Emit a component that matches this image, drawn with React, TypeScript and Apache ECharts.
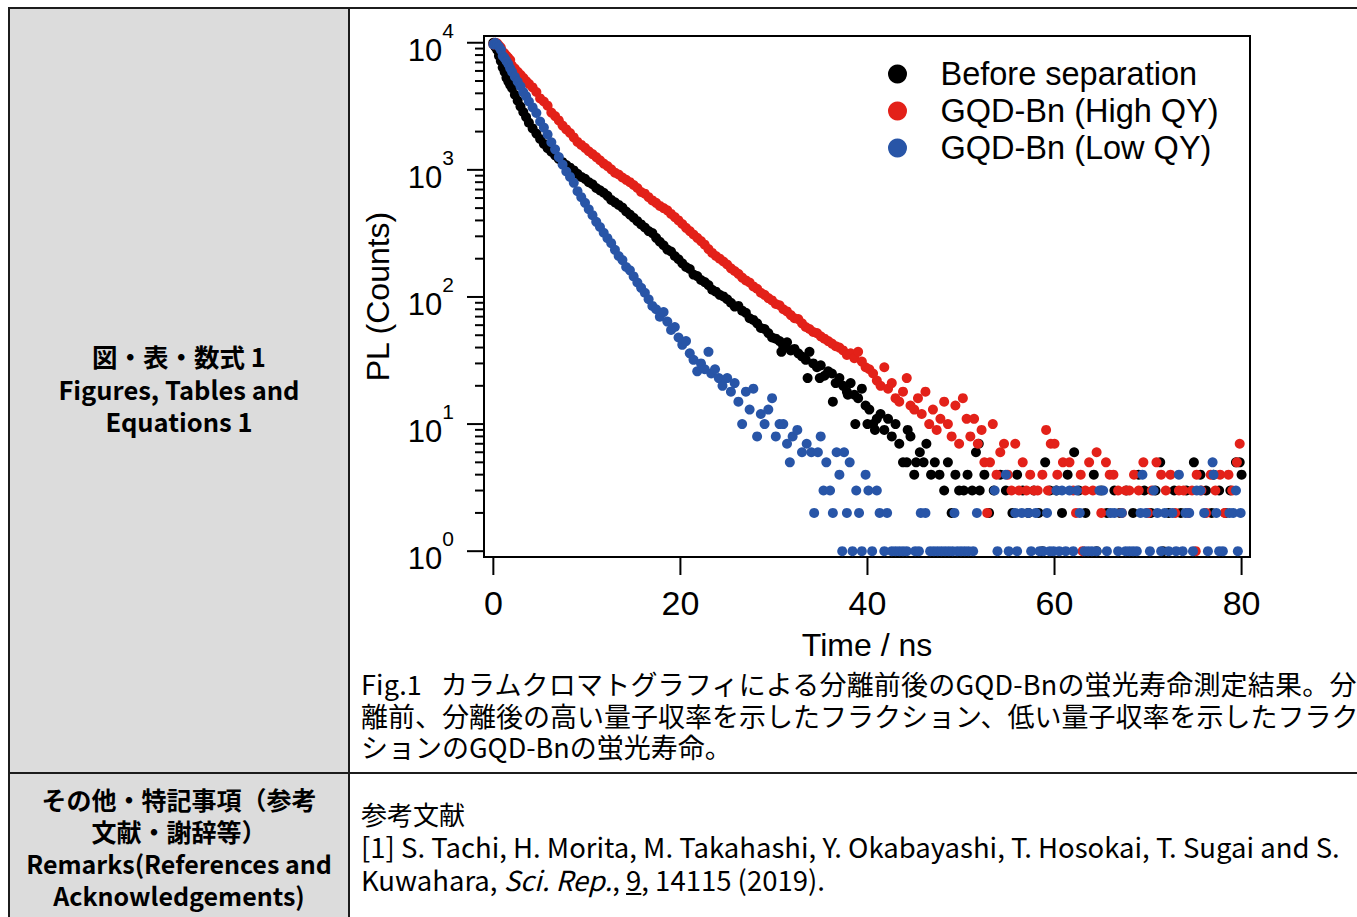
import React, { useEffect, useRef } from 'react';
import * as echarts from 'echarts';

const FONT = 'Liberation Sans, Arial, sans-serif';
const JP = '"Noto Sans CJK JP", sans-serif';

const seriesNames = ['Before separation', 'GQD-Bn (High QY)', 'GQD-Bn (Low QY)'];
const seriesColors = ['#000000', '#e32119', '#2855a7'];

// [time (ns), PL counts]
const beforeSeparation: [number, number][] = [
  [0, 10000], [0.2, 9300], [0.4, 8800], [0.6, 7900], [0.8, 7200], [1.0, 6400], [1.2, 5900], [1.4, 5300],
  [1.6, 4950], [1.8, 4650], [2.0, 4400], [2.3, 3900], [2.6, 3500], [2.9, 3150], [3.2, 2850], [3.5, 2600],
  [3.8, 2350], [4.2, 2120], [4.6, 1930], [5.0, 1750], [5.4, 1600], [5.8, 1480], [6.2, 1390], [6.6, 1300],
  [7.0, 1220], [7.4, 1150], [7.8, 1090], [8.2, 1040], [8.6, 990], [9.0, 930], [9.4, 880], [9.8, 850],
  [10.2, 800], [10.6, 770], [11.0, 720], [11.4, 690], [11.8, 660], [12.2, 625], [12.6, 580], [13.0, 555],
  [13.4, 530], [13.8, 505], [14.2, 470], [14.6, 445], [15.0, 420], [15.4, 395], [15.8, 372], [16.2, 352],
  [16.6, 330], [17.0, 318], [17.4, 292], [17.8, 272], [18.2, 255], [18.6, 236], [19.0, 228], [19.4, 210],
  [19.8, 198], [20.2, 184], [20.6, 172], [21.0, 166], [21.4, 150], [21.8, 146], [22.2, 136], [22.6, 131],
  [23.0, 124], [23.4, 114], [23.8, 110], [24.2, 104], [24.6, 101], [25.0, 96], [25.4, 90], [25.8, 84],
  [26.2, 85], [26.6, 78], [27.0, 75], [27.4, 68], [27.8, 66], [28.2, 62], [28.6, 57], [29.0, 56],
  [29.4, 52], [29.8, 48], [30.2, 47], [30.6, 45], [30.8, 37], [31.0, 41], [31.4, 44], [31.8, 38],
  [32.2, 39], [32.6, 36], [33.0, 34], [33.4, 32], [33.6, 23], [33.8, 37], [34.2, 30], [34.6, 28],
  [34.9, 23], [35.0, 29], [35.4, 24], [35.8, 26], [36.2, 25], [36.3, 15], [36.6, 21], [37.0, 23],
  [37.4, 20], [37.8, 18], [37.9, 17], [38.2, 21], [38.6, 17], [38.7, 10], [39.0, 16], [39.4, 19],
  [39.8, 14], [40.0, 10], [40.2, 13], [40.6, 10], [40.8, 9], [41.0, 11], [41.4, 12], [41.8, 9],
  [42.2, 11], [42.6, 8], [43.0, 10], [43.4, 7], [43.8, 5], [44.2, 5], [44.3, 9], [44.6, 8],
  [45.0, 4], [45.2, 5], [45.6, 6], [46.0, 5], [46.3, 7], [46.8, 4], [47.2, 5], [47.7, 4],
  [48.2, 3], [48.6, 5], [49.0, 2], [49.4, 4], [49.8, 3], [50.3, 3], [50.7, 4], [51.2, 3],
  [51.6, 6], [51.9, 7], [52.0, 3], [52.5, 4], [53.0, 2], [53.5, 3], [54.2, 4], [54.8, 3],
  [55.5, 2], [56.0, 4], [56.6, 3], [57.2, 2], [57.8, 3], [58.3, 2], [58.7, 1], [59.0, 5],
  [59.5, 3], [60.2, 3], [60.8, 2], [61.4, 4], [62.1, 6], [62.6, 3], [63.3, 2], [64.2, 4],
  [64.5, 1], [65.0, 3], [65.6, 2], [66.4, 3], [67.0, 2], [67.7, 3], [68.4, 2], [69.0, 4],
  [69.6, 3], [70.3, 2], [70.8, 3], [71.3, 5], [71.6, 1], [72.2, 2], [72.8, 3], [73.5, 2],
  [74.1, 3], [74.9, 5], [75.6, 4], [76.2, 3], [76.8, 2], [77.0, 4], [77.6, 3], [78.3, 2],
  [78.8, 3], [79.4, 5], [79.8, 5], [80.0, 4],
];

const highQY: [number, number][] = [
  [0, 9700], [0.2, 10000], [0.4, 9900], [0.6, 9500], [0.8, 9150], [1.0, 8500], [1.2, 8200], [1.4, 7900],
  [1.6, 7600], [1.8, 7300], [2.0, 6600], [2.3, 6250], [2.6, 5900], [2.9, 5600], [3.2, 5300], [3.5, 5000],
  [3.8, 4750], [4.2, 4450], [4.6, 4100], [5.0, 3650], [5.4, 3450], [5.8, 3200], [6.2, 2820], [6.6, 2650],
  [7.0, 2450], [7.4, 2230], [7.8, 2080], [8.2, 1950], [8.6, 1800], [9.0, 1660], [9.4, 1570], [9.8, 1490],
  [10.2, 1400], [10.6, 1330], [11.0, 1260], [11.4, 1190], [11.8, 1120], [12.2, 1070], [12.6, 1010], [13.0, 950],
  [13.4, 920], [13.8, 870], [14.2, 835], [14.6, 800], [15.0, 760], [15.4, 720], [15.8, 670], [16.2, 650],
  [16.6, 610], [17.0, 575], [17.4, 550], [17.8, 520], [18.2, 500], [18.6, 480], [19.0, 450], [19.4, 425],
  [19.8, 400], [20.2, 375], [20.6, 350], [21.0, 330], [21.4, 310], [21.8, 292], [22.2, 275], [22.6, 258],
  [23.0, 238], [23.4, 222], [23.8, 210], [24.2, 200], [24.6, 190], [25.0, 180], [25.4, 168], [25.8, 160],
  [26.2, 152], [26.6, 142], [27.0, 135], [27.4, 130], [27.8, 121], [28.2, 116], [28.6, 108], [29.0, 104],
  [29.4, 98], [29.8, 94], [30.2, 88], [30.6, 86], [31.0, 80], [31.4, 77], [31.8, 72], [32.2, 68],
  [32.6, 67], [33.0, 62], [33.4, 58], [33.8, 56], [34.2, 53], [34.6, 52], [35.0, 49], [35.4, 47],
  [35.8, 45], [36.2, 43], [36.6, 41], [37.0, 40], [37.4, 38], [37.8, 35], [38.2, 36], [38.6, 33],
  [39.0, 37], [39.4, 31], [39.8, 28], [40.2, 27], [40.6, 25], [41.0, 22], [41.4, 20], [41.8, 28],
  [42.2, 19], [42.6, 21], [43.0, 16], [43.4, 15], [43.8, 18], [44.2, 23], [44.6, 14], [45.0, 13],
  [45.4, 16], [45.8, 12], [46.2, 18], [46.6, 10], [47.0, 13], [47.4, 9], [47.8, 11], [48.2, 15],
  [48.6, 10], [49.0, 8], [49.4, 14], [49.8, 7], [50.2, 16], [50.6, 11], [51.0, 8], [51.4, 11],
  [51.8, 7], [52.2, 9], [52.5, 5], [52.8, 2], [53.1, 5], [53.4, 10], [53.8, 4], [54.2, 6],
  [54.6, 7], [55.0, 4], [55.4, 3], [55.8, 7], [56.2, 3], [56.6, 5], [57.0, 3], [57.4, 4],
  [57.8, 3], [58.2, 3], [58.7, 4], [59.1, 9], [59.3, 3], [59.6, 7], [60.0, 7], [60.3, 4],
  [60.9, 5], [61.6, 5], [62.0, 3], [62.3, 2], [62.8, 4], [63.0, 1], [63.3, 3], [63.7, 5],
  [64.1, 3], [64.5, 6], [65.0, 2], [65.5, 5], [65.9, 4], [66.3, 4], [66.8, 3], [67.2, 2],
  [67.6, 3], [68.0, 3], [68.5, 4], [69.0, 3], [69.5, 5], [70.0, 2], [70.4, 3], [70.9, 5],
  [71.4, 4], [71.9, 3], [72.4, 4], [72.9, 2], [73.3, 3], [73.8, 3], [74.3, 2], [74.7, 3],
  [75.1, 1], [75.2, 4], [75.7, 3], [76.2, 2], [76.7, 4], [77.2, 3], [77.7, 4], [78.2, 2],
  [78.6, 4], [79.0, 3], [79.5, 5], [79.8, 7],
];

const lowQY: [number, number][] = [
  [0, 9700], [0.2, 10000], [0.4, 9700], [0.6, 9300], [0.8, 8800], [1.0, 7900], [1.2, 7600], [1.4, 7200],
  [1.6, 6800], [1.8, 6300], [2.0, 5900], [2.3, 5400], [2.6, 4950], [2.9, 4550], [3.2, 4100], [3.5, 3800],
  [3.8, 3450], [4.2, 3100], [4.6, 2800], [5.0, 2400], [5.4, 2150], [5.8, 1900], [6.2, 1650], [6.6, 1450],
  [7.0, 1260], [7.4, 1100], [7.8, 970], [8.2, 880], [8.6, 790], [9.0, 680], [9.4, 610], [9.8, 550],
  [10.2, 490], [10.6, 440], [11.0, 390], [11.4, 355], [11.8, 320], [12.2, 290], [12.6, 265], [13.0, 235],
  [13.4, 210], [13.8, 195], [14.2, 172], [14.6, 162], [15.0, 145], [15.4, 130], [15.8, 118], [16.2, 108],
  [16.6, 96], [17.0, 85], [17.4, 80], [17.8, 70], [18.2, 76], [18.6, 64], [19.0, 55], [19.4, 58],
  [19.8, 48], [20.2, 42], [20.6, 45], [21.0, 36], [21.4, 32], [21.8, 26], [22.2, 30], [22.6, 27],
  [23.0, 37], [23.3, 25], [23.7, 27], [24.1, 23], [24.5, 20], [25.0, 23], [25.4, 18], [25.8, 21],
  [26.2, 15], [26.6, 10], [27.0, 18], [27.4, 13], [27.8, 19], [28.2, 8], [28.6, 12], [29.0, 10],
  [29.4, 13], [29.8, 16], [30.2, 8], [30.6, 10], [31.0, 10], [31.4, 7], [31.7, 5], [32.0, 8],
  [32.5, 9], [33.0, 6], [33.5, 7], [34.0, 6], [34.3, 2], [34.7, 6], [35.0, 8], [35.3, 3],
  [35.6, 5], [36.0, 3], [36.3, 2], [36.7, 6], [37.0, 4], [37.3, 1], [37.5, 6], [37.8, 2],
  [38.1, 5], [38.4, 1], [38.8, 3], [39.1, 2], [39.4, 1], [39.8, 4], [40.1, 3], [40.5, 1],
  [41.0, 3], [41.3, 2], [41.8, 1], [42.1, 2], [42.6, 1], [43.0, 1], [43.4, 1], [43.8, 1],
  [44.2, 1], [45.1, 1], [45.5, 1], [45.7, 2], [46.2, 2], [46.7, 1], [47.1, 1], [47.5, 1],
  [47.9, 1], [48.3, 1], [48.7, 1], [49.1, 1], [49.3, 2], [49.6, 1], [50.0, 1], [50.4, 1],
  [50.8, 1], [51.3, 1], [51.7, 2], [53.6, 3], [53.9, 1], [54.8, 4], [55.1, 1], [55.8, 2],
  [56.0, 1], [56.5, 2], [57.2, 2], [57.5, 1], [58.0, 2], [58.4, 1], [58.8, 1], [59.2, 2],
  [59.5, 1], [59.9, 1], [60.2, 3], [60.5, 1], [60.8, 3], [61.2, 1], [61.6, 3], [62.0, 1],
  [62.4, 3], [62.7, 2], [63.2, 1], [63.6, 1], [64.0, 1], [64.5, 1], [64.8, 3], [65.2, 3],
  [65.6, 1], [66.0, 2], [66.4, 2], [66.8, 1], [67.2, 2], [67.6, 1], [68.0, 1], [68.4, 1],
  [68.8, 1], [69.2, 2], [69.4, 4], [69.8, 2], [70.2, 1], [70.6, 3], [71.0, 2], [71.4, 1],
  [71.8, 2], [72.2, 1], [72.6, 2], [73.0, 1], [73.3, 4], [73.7, 1], [74.0, 2], [74.4, 2],
  [74.8, 1], [75.2, 3], [75.6, 3], [76.0, 2], [76.4, 1], [76.9, 5], [77.0, 4], [77.3, 2],
  [77.6, 1], [78.0, 1], [78.7, 2], [79.1, 2], [79.4, 3], [79.6, 1], [79.9, 2],
];

const xTickValues = [0, 20, 40, 60, 80];
const yMajorTicks = [1, 10, 100, 1000, 10000];
const yMinorTicks = [
  2, 3, 4, 5, 6, 7, 8, 9,
  20, 30, 40, 50, 60, 70, 80, 90,
  200, 300, 400, 500, 600, 700, 800, 900,
  2000, 3000, 4000, 5000, 6000, 7000, 8000, 9000,
];

const X_MIN = -1;
const X_MAX = 80.9;
const Y_MIN = 0.9;
const Y_MAX = 11300;

function Chart() {
  const ref = useRef<HTMLDivElement>(null);
  useEffect(() => {
    const chart = echarts.init(ref.current!, null, { renderer: 'svg' });
    const yTickData = [
      ...yMajorTicks.map((v) => [X_MIN, v, 1]),
      ...yMinorTicks.map((v) => [X_MIN, v, 0]),
    ];
    const xTickData = xTickValues.map((v) => [v, Y_MIN]);
    chart.setOption({
      animation: false,
      textStyle: { fontFamily: FONT },
      grid: {
        left: 133, top: 27, width: 766, height: 521,
        show: true, borderColor: '#000', borderWidth: 2, backgroundColor: 'transparent',
        containLabel: false, outerBoundsMode: 'none',
      },
      legend: {
        data: seriesNames,
        orient: 'vertical',
        left: 532,
        top: 43.5,
        icon: 'circle',
        itemWidth: 76,
        itemHeight: 19,
        itemGap: 4,
        selectedMode: false,
        textStyle: { fontSize: 32.5, color: '#000', fontFamily: FONT, lineHeight: 32 },
      },
      xAxis: {
        type: 'value', min: X_MIN, max: X_MAX,
        axisLine: { show: false }, axisTick: { show: false }, splitLine: { show: false },
        axisLabel: {
          margin: 29, fontSize: 34, color: '#000', fontFamily: FONT,
          formatter: (v: number) => (xTickValues.indexOf(v) >= 0 ? String(v) : ''),
        },
        name: 'Time / ns', nameLocation: 'middle', nameGap: 72,
        nameTextStyle: { fontSize: 32, color: '#000', fontFamily: FONT },
      },
      yAxis: {
        type: 'log', logBase: 10, min: Y_MIN, max: Y_MAX,
        axisLine: { show: false }, axisTick: { show: false }, splitLine: { show: false },
        minorTick: { show: false },
        axisLabel: {
          margin: 30,
          formatter: (v: number) => {
            const e = Math.log10(v);
            const r = Math.round(e);
            if (Math.abs(e - r) > 1e-6) return '';
            return `{b|10}{s|${r}}`;
          },
          rich: {
            b: { fontSize: 31, color: '#000', fontFamily: FONT, lineHeight: 46, verticalAlign: 'bottom' },
            s: { fontSize: 21, color: '#000', fontFamily: FONT, lineHeight: 46, verticalAlign: 'top' },
          },
        },
        name: 'PL (Counts)', nameLocation: 'middle', nameGap: 90,
        nameTextStyle: { fontSize: 32, color: '#000', fontFamily: FONT },
      },
      series: [
        ...[beforeSeparation, highQY, lowQY].map((d, i) => ({
          type: 'scatter',
          name: seriesNames[i],
          data: d,
          symbol: 'circle',
          symbolSize: 10,
          itemStyle: { color: seriesColors[i], opacity: 1 },
          silent: true,
          z: 2 + i,
        })),
        {
          type: 'custom',
          name: 'yTicks',
          data: yTickData,
          clip: false,
          silent: true,
          z: 10,
          renderItem: (_p: any, api: any) => {
            const pt = api.coord([api.value(0), api.value(1)]);
            const len = api.value(2) === 1 ? 17 : 9;
            return {
              type: 'line',
              shape: { x1: pt[0] - len, y1: pt[1], x2: pt[0], y2: pt[1] },
              style: { stroke: '#000', lineWidth: 2 },
            };
          },
        },
        {
          type: 'custom',
          name: 'xTicks',
          data: xTickData,
          clip: false,
          silent: true,
          z: 10,
          renderItem: (_p: any, api: any) => {
            const pt = api.coord([api.value(0), api.value(1)]);
            return {
              type: 'line',
              shape: { x1: pt[0], y1: pt[1], x2: pt[0], y2: pt[1] + 18 },
              style: { stroke: '#000', lineWidth: 2 },
            };
          },
        },
      ],
    });
    return () => chart.dispose();
  }, []);
  return (
    <div
      ref={ref}
      style={{ position: 'absolute', left: 351, top: 9, width: 1006, height: 655 }}
    />
  );
}

const LINE = '#1c1c1c';
const GRAY = '#dcdcdc';

export default function App() {
  return (
    <div
      style={{
        position: 'fixed', left: 0, top: 0, width: 1357, height: 917,
        overflow: 'hidden', background: '#fff', fontFamily: JP, color: '#000',
      }}
    >
      <div style={{ position: 'absolute', left: 10, top: 9, width: 338, height: 763, background: GRAY }} />
      <div style={{ position: 'absolute', left: 10, top: 774, width: 338, height: 160, background: GRAY }} />
      <div style={{ position: 'absolute', left: 8, top: 7, width: 1400, height: 2, background: LINE }} />
      <div style={{ position: 'absolute', left: 8, top: 772, width: 1400, height: 2, background: LINE }} />
      <div style={{ position: 'absolute', left: 8, top: 7, width: 2, height: 940, background: LINE }} />
      <div style={{ position: 'absolute', left: 348, top: 7, width: 2, height: 940, background: LINE }} />

      <div
        style={{
          position: 'absolute', left: 10, width: 338, top: 340, textAlign: 'center',
          fontWeight: 700, fontSize: 25.5, lineHeight: '32.5px', whiteSpace: 'nowrap',
        }}
      >
        図・表・数式 1<br />Figures, Tables and<br />Equations 1
      </div>
      <div
        style={{
          position: 'absolute', left: 10, width: 338, top: 783, textAlign: 'center',
          fontWeight: 700, fontSize: 25, lineHeight: '32px', whiteSpace: 'nowrap',
        }}
      >
        その他・特記事項（参考<br />文献・謝辞等）<br />Remarks(References and<br />Acknowledgements)
      </div>

      <div
        style={{
          position: 'absolute', left: 361, top: 668, fontSize: 27, lineHeight: '31.5px',
          whiteSpace: 'pre',
        }}
      >
        <span style={{ letterSpacing: '0.2px' }}>
          {'Fig.1   カラムクロマトグラフィによる分離前後のGQD-Bnの蛍光寿命測定結果。分'}
        </span>
        {'\n離前、分離後の高い量子収率を示したフラクション、低い量子収率を示したフラク\n'}
        {'ションのGQD-Bnの蛍光寿命。'}
      </div>

      <div
        style={{
          position: 'absolute', left: 361, top: 797, fontSize: 27.5, lineHeight: '33px',
          whiteSpace: 'nowrap',
        }}
      >
        <span style={{ fontSize: 26 }}>参考文献</span><br />
        [1] S. Tachi, H. Morita, M. Takahashi, Y. Okabayashi, T. Hosokai, T. Sugai and S.<br />
        Kuwahara, <i>Sci. Rep.</i>, <u>9</u>, 14115 (2019).
      </div>

      <Chart />
    </div>
  );
}
